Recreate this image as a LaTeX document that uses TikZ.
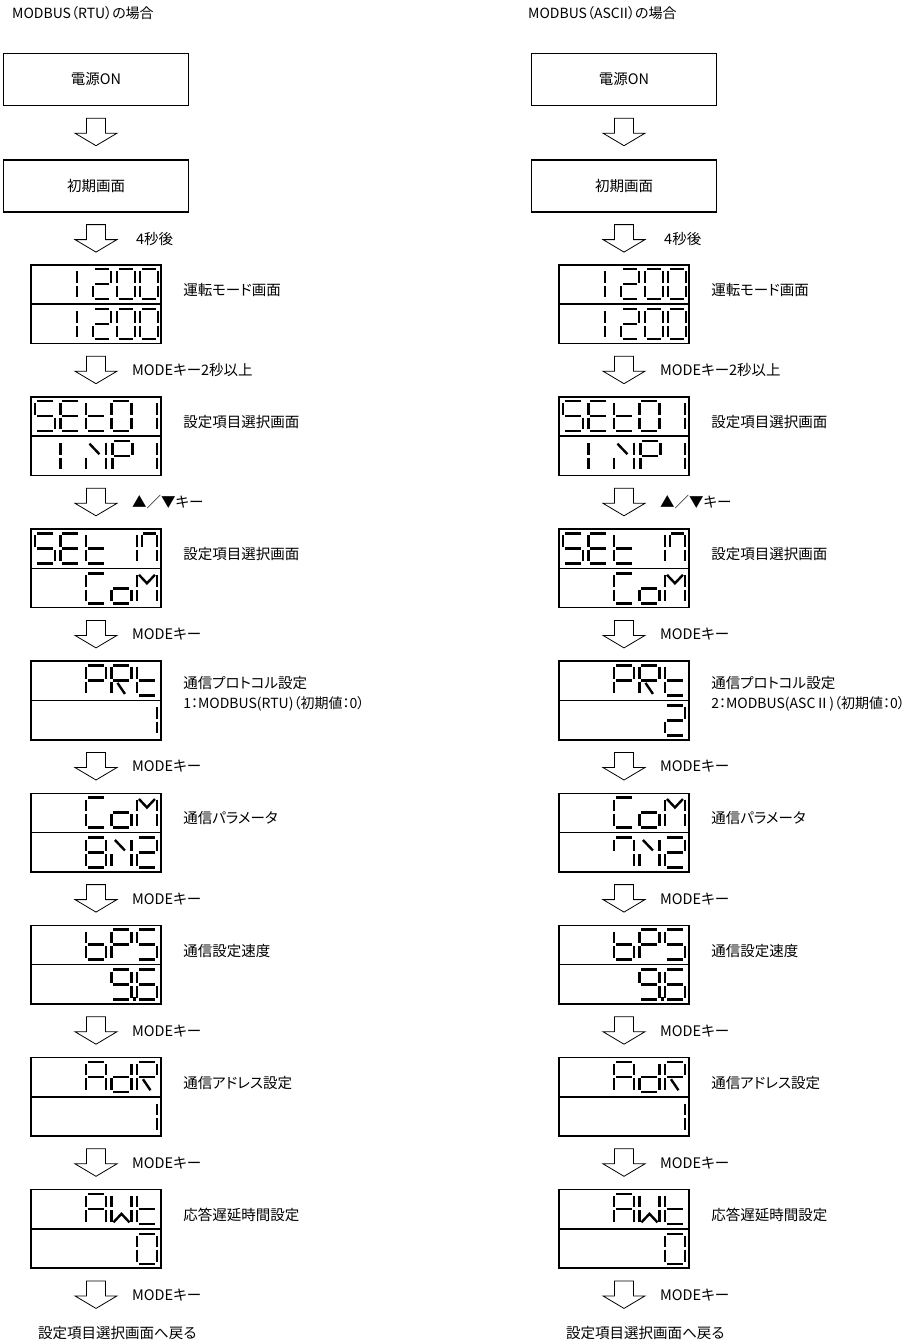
\documentclass[tikz,border=0pt]{standalone}
\usepackage{fontspec}
\setmainfont{Noto Sans CJK JP}[RawFeature=+palt]
\usetikzlibrary{positioning, calc}

% 7-segment pieces, one cell is 20 x 30 (y runs downwards)
\newcommand\sga{\draw[segline] (2,0) -- (18,0);}
\newcommand\sgb{\draw[segline] (20,2) -- (20,13.5);}
\newcommand\sgc{\draw[segline] (20,16.5) -- (20,28);}
\newcommand\sgd{\draw[segline] (2,30) -- (18,30);}
\newcommand\sge{\draw[segline] (0,16.5) -- (0,28);}
\newcommand\sgf{\draw[segline] (0,2) -- (0,13.5);}
\newcommand\sgg{\draw[segline] (2,15) -- (18,15);}
\newcommand\sgn{\draw[segline] (3.5,2.5) -- (13.5,13);}
\newcommand\sgr{\draw[segline] (6,17.5) -- (13.5,28.5);}
\newcommand\sgm{\draw[segline] (2,1.5) -- (10,10) -- (18,1.5);}
\newcommand\sgw{\draw[segline] (2,28.5) -- (10,20) -- (18,28.5);}
\newcommand\sgp{\fill (21.5,27.5) rectangle (24.5,31);}
\def\segloop#1{\ifx\relax#1\else\csname sg#1\endcsname\expandafter\segloop\fi}

% one row of characters: display node, y offset, list of x/segments
\newcommand\segrow[3]{\foreach \cx/\cs in {#3}
  \pic at ([shift={(\cx,#2)}]#1.north west) {sevseg=\cs};}

% one column: prefix, x offset, PRt lower row, PRt text, CoM lower row
\newcommand\flowcol[5]{%
  \begin{scope}[xshift=#2pt]
    \node[box] (#1on) at (96,79.5) {電源ON};
    \node[box, below=53pt of #1on] (#1init) {初期画面};
    \node[disp, below=51.5pt of #1init] (#1d1) {};
    \node[disp, below=52pt of #1d1] (#1d2) {};
    \node[disp, below=52pt of #1d2] (#1d3) {};
    \node[disp, below=52pt of #1d3] (#1d4) {};
    \node[disp, below=52pt of #1d4] (#1d5) {};
    \node[disp, below=52pt of #1d5] (#1d6) {};
    \node[disp, below=52pt of #1d6] (#1d7) {};
    \node[disp, below=52pt of #1d7] (#1d8) {};
    \node[lbl] (#1back) at (38,1333) {設定項目選択画面へ戻る};

    \foreach \k in {1,...,8}
      \draw[divline] (#1d\k.west) -- (#1d\k.east);

    % display contents
    \foreach \cx/\cs in {29/bc, 63/abged, 87/abcdef, 110/abcdef} {
      \pic[xscale=.9] at ([shift={(\cx,5)}]#1d1.north west) {sevseg=\cs};
      \pic[xscale=.9] at ([shift={(\cx,45)}]#1d1.north west) {sevseg=\cs};}
    \segrow{#1d2}{5}{5/afgcd, 30.5/afged, 56/fged, 81.5/abcdef, 107/bc}
    \segrow{#1d2}{45}{30.5/ef, 56/ebcn, 82.5/abfge, 107/bc}
    \segrow{#1d3}{5}{5/afgcd, 30.5/afged, 56/fged, 107/ef}
    \pic[xscale=.76] at ([shift={(112,5)}]#1d3.north west) {sevseg=abcf};
    \segrow{#1d3}{45}{56/afed, 81.5/gcde, 107/bcefm}
    \segrow{#1d4}{5}{56/abfge, 81.5/abfger, 107/fged}
    \segrow{#1d4}{45}{#3}
    \segrow{#1d5}{5}{56/afed, 81.5/gcde, 107/bcefm}
    \segrow{#1d5}{45}{#5}
    \segrow{#1d6}{5}{56/fgecd, 81.5/abfge, 107/afgcd}
    \segrow{#1d6}{45}{81.5/abcdfgp, 107/afgedc}
    \segrow{#1d7}{5}{56/abcefg, 81.5/bcdeg, 107/abfger}
    \segrow{#1d7}{45}{107/bc}
    \segrow{#1d8}{5}{56/abcefg, 81.5/bcefw, 107/fged}
    \segrow{#1d8}{45}{107/abcdef}

    % texts beside the displays
    \node[lbl, right=21pt of #1d1.north east, yshift=-26pt] (#1n1) {運転モード画面};
    \node[lbl, right=21pt of #1d2.north east, yshift=-26pt] (#1n2) {設定項目選択画面};
    \node[lbl, right=21pt of #1d3.north east, yshift=-26pt] (#1n3) {設定項目選択画面};
    \node[lbl, align=left, right=21pt of #1d4.north east, yshift=-33pt] (#1n4) {通信プロトコル設定\\{\fontsize{14}{20}\selectfont #4}};
    \node[lbl, right=21pt of #1d5.north east, yshift=-26pt] (#1n5) {通信パラメータ};
    \node[lbl, right=21pt of #1d6.north east, yshift=-26pt] (#1n6) {通信設定速度};
    \node[lbl, right=21pt of #1d7.north east, yshift=-26pt] (#1n7) {通信アドレス設定};
    \node[lbl, right=21pt of #1d8.north east, yshift=-26pt] (#1n8) {応答遅延時間設定};

    % block arrows and their keys
    \foreach \src/\dst in {on/init, init/d1, d1/d2, d2/d3, d3/d4, d4/d5, d5/d6, d6/d7, d7/d8, d8/back}
      \draw[blk] (#1\src.south) to (#1\dst.north);
    \node[alab, xshift=4pt] (#1a1) at ([yshift=-26pt]#1init.south) {4秒後};
    \node[alab] (#1a2) at ([yshift=-26pt]#1d1.south) {MODEキー2秒以上};
    \node[alab] (#1a3) at ([yshift=-26pt]#1d2.south) {▲／▼キー};
    \foreach \src in {d3, d4, d5, d6, d7, d8}
      \node[alab] (#1m\src) at ([yshift=-26pt]#1\src.south) {MODEキー};
  \end{scope}}

\begin{document}
\begin{tikzpicture}[x=1pt, y=-1pt,
    box/.style={draw, line width=1.4pt, minimum width=185pt, minimum height=52pt,
      inner sep=0pt, font=\fontsize{14.5}{16}\selectfont},
    disp/.style={draw, line width=1.6pt, minimum width=130.5pt, minimum height=78.5pt, inner sep=0pt},
    divline/.style={line width=1.6pt},
    segline/.style={line width=2.4pt},
    % hollow block arrow hanging below a node, pointing at the next one
    blk/.style={draw, fill=white, line width=.8pt,
      to path={let \p1=(\tikztostart) in
        (\x1-9.5pt,\y1-12pt) -- (\x1+9.5pt,\y1-12pt) -- (\x1+9.5pt,\y1-27pt)
        -- (\x1+21pt,\y1-27pt) -- (\x1,\y1-39.5pt) -- (\x1-21pt,\y1-27pt)
        -- (\x1-9.5pt,\y1-27pt) -- cycle}},
    lbl/.style={anchor=west, inner sep=0pt, font=\fontsize{14.5}{20}\selectfont},
    alab/.style={lbl, xshift=36pt},
    ttl/.style={lbl, font=\fontsize{14}{18}\selectfont},
    sevseg/.pic={\expandafter\segloop#1\relax},
  ]
  \useasboundingbox (0,0) rectangle (910,1343);

  \node[ttl] (ltitle) at (12,13) {MODBUS（RTU）の場合};
  \node[ttl] (rtitle) at (528,13) {MODBUS（ASCII）の場合};

  \flowcol{L}{0}{107/bc}{1：MODBUS(RTU)（初期値：0）}{56/abcdefg, 81.5/ebcn, 107/abged}
  \flowcol{R}{528}{107/abged}{2：MODBUS(ASCⅡ)（初期値：0）}{56/abcf, 81.5/ebcn, 107/abged}
\end{tikzpicture}
\end{document}
